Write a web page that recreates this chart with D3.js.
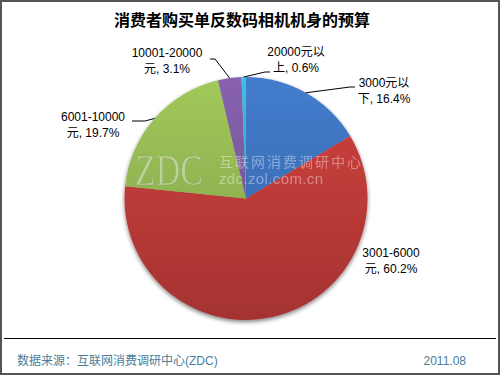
<!DOCTYPE html>
<html>
<head>
<meta charset="utf-8">
<script src="https://cdn.jsdelivr.net/npm/d3@7"></script>
<style>
  body { margin: 0; background: #fff; }
  svg text { font-family: "Liberation Sans", Arial, "Noto Sans CJK SC", sans-serif; }
</style>
</head>
<body>
<div id="chart"></div>
<script>
// data
var categories = ["3000元以下", "3001-6000元", "6001-10000元", "10001-20000元", "20000元以上"];
var shares = [16.4, 60.2, 19.7, 3.1, 0.6];
// label text, split the way the chart wraps it
var labelLines = [
    ["3000元以", "下, 16.4%"],
    ["3001-6000", "元, 60.2%"],
    ["6001-10000", "元, 19.7%"],
    ["10001-20000", "元, 3.1%"],
    ["20000元以", "上, 0.6%"]
];
var sliceColors = ["#3d72bc", "#c03c39", "#94b853", "#7c5aa0", "#3aaed0"];

// label layout (anchor centre, first baseline, leader bend) - not data
var labelLayout = [
    { x: 384, y: 87, bend: [350, 87], end: [355, 87] },
    { x: 391, y: 257, bend: null, end: null },
    { x: 93, y: 121, bend: [145, 121], end: [132, 121] },
    { x: 167, y: 57, bend: [215, 59], end: [210, 59] },
    { x: 296, y: 56, bend: [265, 72], end: [270, 72] }
];

var width = 500, height = 375;
var cx = 246, cy = 198.5, radius = 121.5;

var svg = d3.select("#chart").append("svg")
    .attr("width", width)
    .attr("height", height);

var defs = svg.append("defs");

// soft shadow under the pie
var shadow = defs.append("filter").attr("id", "shadow")
    .attr("x", "-10%").attr("y", "-10%").attr("width", "120%").attr("height", "125%");
shadow.append("feGaussianBlur").attr("in", "SourceAlpha").attr("stdDeviation", 2);
shadow.append("feOffset").attr("dx", 0).attr("dy", 2).attr("result", "blur");
shadow.append("feComponentTransfer").append("feFuncA").attr("type", "linear").attr("slope", 0.5);
var merge = shadow.append("feMerge");
merge.append("feMergeNode");
merge.append("feMergeNode").attr("in", "SourceGraphic");

// vertical gradient for each slice, lighter on top (in the pie group's space)
sliceColors.forEach(function (c, i) {
    var grad = defs.append("linearGradient")
        .attr("id", "grad" + i)
        .attr("gradientUnits", "userSpaceOnUse")
        .attr("x1", 0).attr("y1", -radius)
        .attr("x2", 0).attr("y2", radius);
    grad.append("stop").attr("offset", "0%").attr("stop-color", d3.color(c).brighter(0.25));
    grad.append("stop").attr("offset", "100%").attr("stop-color", d3.color(c).darker(0.45));
});

// frame
svg.append("rect")
    .attr("x", 1).attr("y", 1)
    .attr("width", width - 2).attr("height", height - 2)
    .attr("fill", "#fff")
    .attr("stroke", "#555")
    .attr("stroke-width", 2);

// title
svg.append("text")
    .attr("x", 242).attr("y", 26)
    .attr("text-anchor", "middle")
    .style("font-family", "'Noto Sans CJK SC', sans-serif")
    .style("font-weight", "bold")
    .style("font-size", "16px")
    .attr("fill", "#000")
    .text("消费者购买单反数码相机机身的预算");

var pie = d3.pie().sort(null).value(function (d) { return d; });
var arcs = pie(shares);
var arc = d3.arc().innerRadius(0).outerRadius(radius);

var g = svg.append("g").attr("transform", "translate(" + cx + "," + cy + ")");

g.append("g").attr("filter", "url(#shadow)")
    .selectAll("path")
    .data(arcs)
    .enter().append("path")
    .attr("d", arc)
    .attr("fill", function (d, i) { return "url(#grad" + i + ")"; });

// watermark
var wm = svg.append("g").attr("opacity", 0.38);
wm.append("text")
    .attr("x", 135).attr("y", 185)
    .attr("textLength", 68)
    .attr("lengthAdjust", "spacingAndGlyphs")
    .style("font-family", "'Liberation Serif', serif")
    .style("font-size", "44px")
    .attr("fill", "#fff")
    .attr("stroke", "#888")
    .attr("stroke-width", 0.6)
    .text("ZDC");
wm.append("text")
    .attr("x", 219).attr("y", 167)
    .attr("textLength", 142)
    .style("font-family", "'Noto Sans CJK SC', sans-serif")
    .style("font-size", "14px")
    .attr("fill", "#fff")
    .text("互联网消费调研中心");
wm.append("text")
    .attr("x", 219).attr("y", 184)
    .attr("textLength", 104)
    .style("font-size", "15px")
    .attr("fill", "#fff")
    .text("zdc.zol.com.cn");

// leader lines
var leaders = svg.append("g")
    .attr("fill", "none")
    .attr("stroke", "#000")
    .attr("stroke-width", 1);
arcs.forEach(function (d, i) {
    var lay = labelLayout[i];
    if (!lay.bend) return;
    var mid = (d.startAngle + d.endAngle) / 2;
    var p0 = [cx + radius * Math.sin(mid), cy - radius * Math.cos(mid)];
    leaders.append("path")
        .attr("d", d3.line()([p0, lay.bend, lay.end]));
});

// data labels
arcs.forEach(function (d, i) {
    var lay = labelLayout[i];
    var t = svg.append("text")
        .attr("text-anchor", "middle")
        .style("font-size", "12px")
        .attr("fill", "#000");
    labelLines[i].forEach(function (line, j) {
        t.append("tspan")
            .attr("x", lay.x)
            .attr("y", lay.y + j * 16)
            .text(line);
    });
});

// footer
svg.append("line")
    .attr("x1", 4).attr("x2", 496)
    .attr("y1", 338.5).attr("y2", 338.5)
    .attr("stroke", "#000")
    .attr("stroke-width", 1);
svg.append("text")
    .attr("x", 17).attr("y", 365)
    .style("font-size", "12px")
    .attr("fill", "#4b7d99")
    .text("数据来源：互联网消费调研中心(ZDC)");
svg.append("text")
    .attr("x", 466).attr("y", 365)
    .attr("text-anchor", "end")
    .style("font-size", "12px")
    .attr("fill", "#4b7d99")
    .text("2011.08");
</script>
</body>
</html>
